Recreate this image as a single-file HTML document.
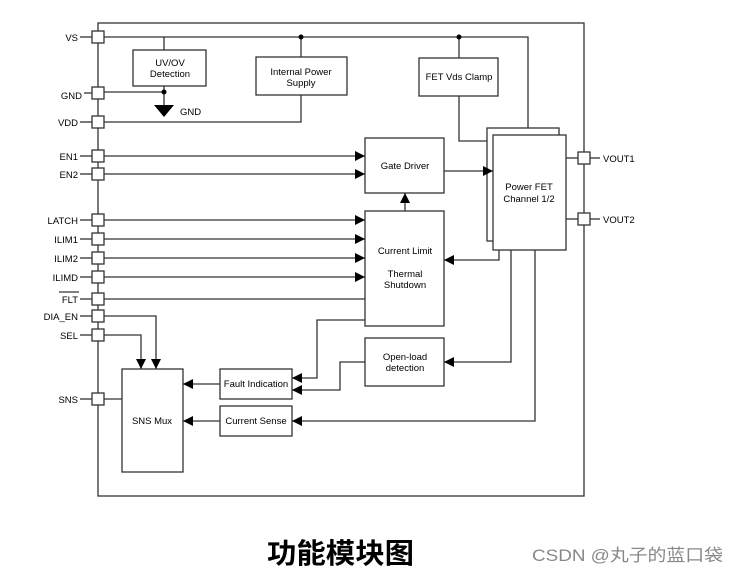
<!DOCTYPE html>
<html><head><meta charset="utf-8"><style>
html,body{margin:0;padding:0;background:#fff}
svg{display:block}
text{font-family:"Liberation Sans",Arial,sans-serif;font-size:9.5px;fill:#000}
</style></head><body>
<svg width="738" height="574" viewBox="0 0 738 574" xmlns="http://www.w3.org/2000/svg">
<defs>
<marker id="a" viewBox="0 0 10 10" refX="10" refY="5" markerWidth="10" markerHeight="10" markerUnits="userSpaceOnUse" orient="auto"><path d="M0,0 L10,5 L0,10 z" fill="#000"/></marker>
</defs>
<g stroke="#333" stroke-width="1.3" fill="none">
<rect x="98" y="23" width="486" height="473"/>
<polyline points="104,37 528,37 528,128"/>
<line x1="301" y1="37" x2="301" y2="57"/>
<line x1="164" y1="37" x2="164" y2="50"/>
<line x1="459" y1="37" x2="459" y2="58"/>
<rect x="133" y="50" width="73" height="36" fill="#fff"/>
<rect x="256" y="57" width="91" height="38" fill="#fff"/>
<rect x="419" y="58" width="79" height="38" fill="#fff"/>
<polyline points="104,92 164,92"/>
<line x1="164" y1="86" x2="164" y2="105"/>
<polyline points="104,122 301,122 301,95"/>
<polyline points="459,96 459,141 487,141"/>
<rect x="487" y="128" width="72" height="113" fill="#fff"/>
<rect x="493" y="135" width="73" height="115" fill="#fff"/>
<rect x="365" y="138" width="79" height="55" fill="#fff"/>
<rect x="365" y="211" width="79" height="115" fill="#fff"/>
<rect x="365" y="338" width="79" height="48" fill="#fff"/>
<rect x="220" y="369" width="72" height="30" fill="#fff"/>
<rect x="220" y="406" width="72" height="30" fill="#fff"/>
<rect x="122" y="369" width="61" height="103" fill="#fff"/>
<line x1="104" y1="156" x2="365" y2="156" marker-end="url(#a)"/>
<line x1="104" y1="174" x2="365" y2="174" marker-end="url(#a)"/>
<line x1="444" y1="171" x2="493" y2="171" marker-end="url(#a)"/>
<line x1="405" y1="211" x2="405" y2="193" marker-end="url(#a)"/>
<line x1="104" y1="220" x2="365" y2="220" marker-end="url(#a)"/>
<line x1="104" y1="239" x2="365" y2="239" marker-end="url(#a)"/>
<line x1="104" y1="258" x2="365" y2="258" marker-end="url(#a)"/>
<line x1="104" y1="277" x2="365" y2="277" marker-end="url(#a)"/>
<line x1="104" y1="299" x2="365" y2="299"/>
<polyline points="499,250 499,260 444,260" marker-end="url(#a)"/>
<polyline points="511,250 511,362 444,362" marker-end="url(#a)"/>
<polyline points="535,250 535,421 292,421" marker-end="url(#a)"/>
<polyline points="365,320 317,320 317,378 292,378" marker-end="url(#a)"/>
<polyline points="365,362 340,362 340,390 292,390" marker-end="url(#a)"/>
<line x1="220" y1="384" x2="183" y2="384" marker-end="url(#a)"/>
<line x1="220" y1="421" x2="183" y2="421" marker-end="url(#a)"/>
<polyline points="104,316 156,316 156,369" marker-end="url(#a)"/>
<polyline points="104,335 141,335 141,369" marker-end="url(#a)"/>
<line x1="104" y1="399" x2="122" y2="399"/>
<line x1="566" y1="158" x2="578" y2="158"/>
<line x1="566" y1="219" x2="578" y2="219"/>
<line x1="590" y1="158" x2="600" y2="158"/>
<line x1="590" y1="219" x2="600" y2="219"/>
<g>
<line x1="80" y1="37" x2="92" y2="37"/><line x1="84" y1="93" x2="92" y2="93"/><line x1="80" y1="122" x2="92" y2="122"/>
<line x1="80" y1="156" x2="92" y2="156"/><line x1="80" y1="174" x2="92" y2="174"/><line x1="80" y1="220" x2="92" y2="220"/>
<line x1="80" y1="239" x2="92" y2="239"/><line x1="80" y1="258" x2="92" y2="258"/><line x1="80" y1="277" x2="92" y2="277"/>
<line x1="80" y1="299" x2="92" y2="299"/><line x1="80" y1="316" x2="92" y2="316"/><line x1="80" y1="335" x2="92" y2="335"/>
<line x1="80" y1="399" x2="92" y2="399"/>
</g>
<g fill="#fff">
<rect x="92" y="31" width="12" height="12"/><rect x="92" y="87" width="12" height="12"/><rect x="92" y="116" width="12" height="12"/>
<rect x="92" y="150" width="12" height="12"/><rect x="92" y="168" width="12" height="12"/><rect x="92" y="214" width="12" height="12"/>
<rect x="92" y="233" width="12" height="12"/><rect x="92" y="252" width="12" height="12"/><rect x="92" y="271" width="12" height="12"/>
<rect x="92" y="293" width="12" height="12"/><rect x="92" y="310" width="12" height="12"/><rect x="92" y="329" width="12" height="12"/>
<rect x="92" y="393" width="12" height="12"/>
<rect x="578" y="152" width="12" height="12"/><rect x="578" y="213" width="12" height="12"/>
</g>
</g>
<circle cx="301" cy="37" r="2.5"/><circle cx="459" cy="37" r="2.5"/><circle cx="164" cy="92" r="2.5"/>
<path d="M154,105 L174,105 L164,117 z" fill="#000"/>
<line x1="59" y1="292" x2="79" y2="292" stroke="#000" stroke-width="1"/>
<g text-anchor="end">
<text x="78" y="41">VS</text><text x="82" y="99">GND</text><text x="78" y="126">VDD</text>
<text x="78" y="160">EN1</text><text x="78" y="178">EN2</text><text x="78" y="224">LATCH</text>
<text x="78" y="243">ILIM1</text><text x="78" y="262">ILIM2</text><text x="78" y="281">ILIMD</text>
<text x="78" y="303">FLT</text><text x="78" y="320">DIA_EN</text><text x="78" y="339">SEL</text>
<text x="78" y="403">SNS</text>
</g>
<text x="180" y="115">GND</text>
<text x="603" y="162">VOUT1</text><text x="603" y="223">VOUT2</text>
<g text-anchor="middle">
<text x="170" y="66">UV/OV</text><text x="170" y="77">Detection</text>
<text x="301" y="75">Internal Power</text><text x="301" y="86">Supply</text>
<text x="459" y="80">FET Vds Clamp</text>
<text x="529" y="190">Power FET</text><text x="529" y="202">Channel 1/2</text>
<text x="405" y="169">Gate Driver</text>
<text x="405" y="254">Current Limit</text>
<text x="405" y="277">Thermal</text><text x="405" y="288">Shutdown</text>
<text x="405" y="360">Open-load</text><text x="405" y="371">detection</text>
<text x="256" y="387">Fault Indication</text>
<text x="256" y="424">Current Sense</text>
<text x="152" y="424">SNS Mux</text>
</g>
<text x="267" y="563" textLength="147" lengthAdjust="spacingAndGlyphs" style="font-family:'Noto Sans CJK SC',sans-serif;font-size:28px;font-weight:bold">功能模块图</text>
<text x="532" y="561" textLength="191" lengthAdjust="spacingAndGlyphs" style="font-family:'Liberation Sans','Noto Sans CJK SC',sans-serif;font-size:17px;fill:#888">CSDN @丸子的蓝口袋</text>
</svg>
</body></html>
